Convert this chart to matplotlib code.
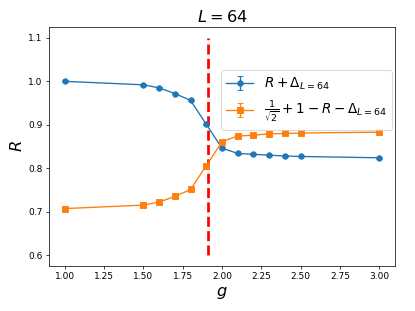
import matplotlib
matplotlib.use("Agg")
import matplotlib.pyplot as plt
import numpy as np

g = [1.0, 1.5, 1.6, 1.7, 1.8, 1.9, 2.0, 2.1, 2.2, 2.3, 2.4, 2.5, 3.0]
r_plus = [1.000, 0.992, 0.985, 0.972, 0.956, 0.901, 0.846, 0.834, 0.832, 0.830, 0.828, 0.827, 0.824]
r_err = [0.002] * len(g)
r_comp = [0.707, 0.715, 0.722, 0.735, 0.751, 0.806, 0.861, 0.874, 0.876, 0.879, 0.880, 0.881, 0.883]
comp_err = [0.002] * len(g)
g_c = 1.91

fig = plt.figure(figsize=(415 / 65, 311 / 65), dpi=65)
ax = fig.add_axes([0.118, 0.145, 0.834, 0.768])

ax.errorbar(g, r_plus, yerr=r_err, marker="o", capsize=3,
            label=r"$R+\Delta_{L=64}$")
ax.errorbar(g, r_comp, yerr=comp_err, marker="s", capsize=3,
            label=r"$\frac{1}{\sqrt{2}}+1-R-\Delta_{L=64}$")
ax.vlines(g_c, 0.6, 1.1, colors="red", linestyles="dashed", linewidth=3)

ax.set_xlabel(r"$g$", fontsize=18)
ax.set_ylabel(r"$R$", fontsize=18)
ax.set_title(r"$L=64$", fontsize=18)
ax.legend(loc="upper right", bbox_to_anchor=(1.0, 0.831), fontsize=15,
          borderaxespad=0.2)

fig.savefig("out.png", dpi=65)
